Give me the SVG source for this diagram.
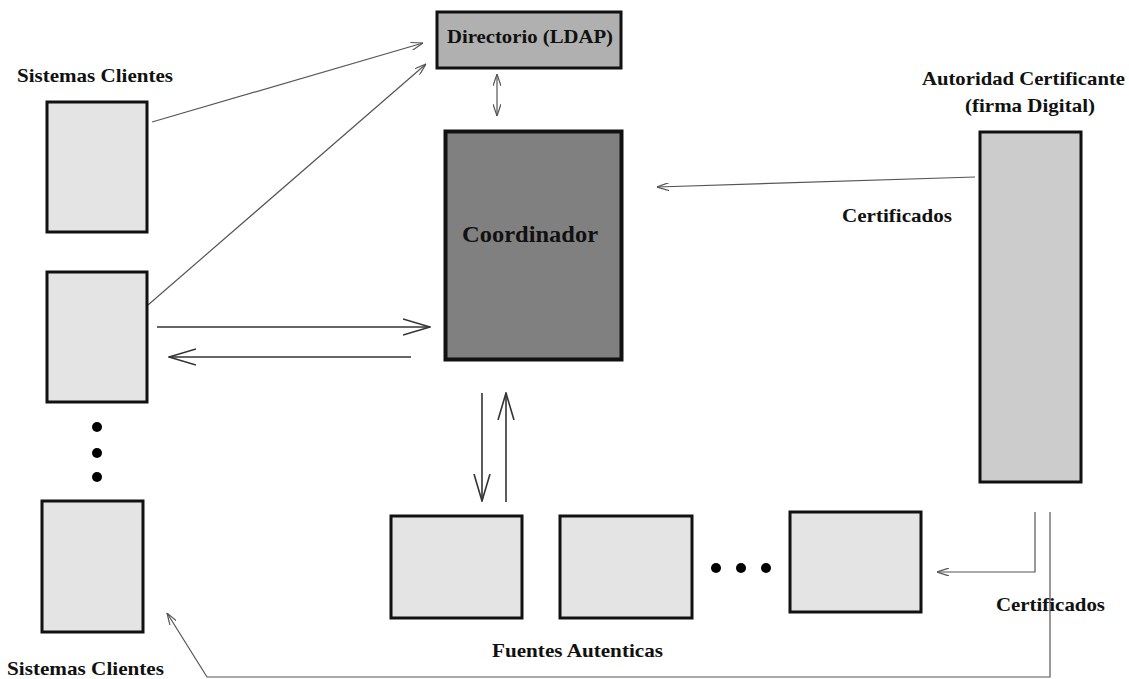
<svg xmlns="http://www.w3.org/2000/svg" width="1129" height="679" viewBox="0 0 1129 679">
<style>
  text { font-family: "Liberation Serif", "Times New Roman", serif; font-weight: bold; fill: #111; }
  .lbl { font-size: 19px; }
  .box { stroke: #111; stroke-width: 3; }
  .light { fill: #e4e4e4; }
  .thin { fill: none; stroke: #555; stroke-width: 1.2; }
  .thick { fill: none; stroke: #333; stroke-width: 1.6; }
</style>
<defs>
  <marker id="sm" viewBox="0 0 12 8" refX="12" refY="4" markerWidth="12" markerHeight="8" markerUnits="userSpaceOnUse" orient="auto-start-reverse">
    <path d="M0,0 L12,4 L0,8" fill="none" stroke="#555" stroke-width="1.2"/>
  </marker>
  <marker id="open" viewBox="0 0 28 18" refX="27" refY="9" markerWidth="28" markerHeight="18" markerUnits="userSpaceOnUse" orient="auto">
    <path d="M0,1 L27,9 L0,17" fill="none" stroke="#333" stroke-width="1.6"/>
  </marker>
</defs>

<g id="connectors">
  <line class="thin" x1="152" y1="122" x2="423" y2="43" marker-end="url(#sm)"/>
  <line class="thin" x1="148" y1="305" x2="426" y2="64" marker-end="url(#sm)"/>
  <line class="thin" x1="497" y1="74" x2="497" y2="116" marker-start="url(#sm)" marker-end="url(#sm)"/>
  <line class="thick" x1="157" y1="327" x2="430" y2="327" marker-end="url(#open)"/>
  <line class="thick" x1="411" y1="357" x2="169" y2="357" marker-end="url(#open)"/>
  <line class="thick" x1="482" y1="393" x2="482" y2="501" marker-end="url(#open)"/>
  <line class="thick" x1="506" y1="502" x2="506" y2="393" marker-end="url(#open)"/>
  <line class="thin" x1="975" y1="177" x2="657" y2="187" marker-end="url(#sm)"/>
  <polyline class="thin" points="1035,512 1035,572 937,572" marker-end="url(#sm)"/>
  <polyline class="thin" points="1050,512 1050,677 207,677 167,613" stroke="#777" stroke-width="1.5" marker-end="url(#sm)"/>
</g>

<g id="directorio">
  <rect class="box" x="437" y="12" width="184" height="56" fill="#b0b0b0"/>
  <text x="447" y="43" font-size="19" textLength="166" lengthAdjust="spacingAndGlyphs">Directorio (LDAP)</text>
</g>

<g id="coordinador">
  <rect x="445.5" y="131.5" width="176" height="228" fill="#808080" stroke="#111" stroke-width="4"/>
  <text x="462" y="242" font-size="23" textLength="136" lengthAdjust="spacingAndGlyphs">Coordinador</text>
</g>

<g id="clientes-top-label">
  <text class="lbl" x="17" y="82" textLength="156" lengthAdjust="spacingAndGlyphs">Sistemas Clientes</text>
</g>
<g id="cliente1">
  <rect class="box light" x="47" y="102" width="100" height="130"/>
</g>
<g id="cliente2">
  <rect class="box light" x="47" y="272" width="100" height="130"/>
</g>
<g id="cliente-dots">
  <circle cx="97" cy="427" r="5" fill="#000"/>
  <circle cx="97" cy="453" r="5" fill="#000"/>
  <circle cx="97" cy="477" r="5" fill="#000"/>
</g>
<g id="cliente3">
  <rect class="box light" x="42" y="501" width="101" height="131"/>
</g>
<g id="clientes-bottom-label">
  <text class="lbl" x="7" y="675" textLength="157" lengthAdjust="spacingAndGlyphs">Sistemas Clientes</text>
</g>

<g id="autoridad">
  <text class="lbl" x="922" y="85" textLength="203" lengthAdjust="spacingAndGlyphs">Autoridad Certificante</text>
  <text class="lbl" x="965" y="112" textLength="130" lengthAdjust="spacingAndGlyphs">(firma Digital)</text>
  <rect x="980" y="132" width="101" height="350" fill="#cccccc" class="box"/>
</g>

<g id="cert-label-1">
  <text class="lbl" x="842" y="222" textLength="110" lengthAdjust="spacingAndGlyphs">Certificados</text>
</g>
<g id="cert-label-2">
  <text class="lbl" x="996" y="611" textLength="109" lengthAdjust="spacingAndGlyphs">Certificados</text>
</g>

<g id="fuente1">
  <rect class="box light" x="391" y="516" width="131" height="102"/>
</g>
<g id="fuente2">
  <rect class="box light" x="560" y="516" width="132" height="102"/>
</g>
<g id="fuente-dots">
  <circle cx="716" cy="568" r="5" fill="#000"/>
  <circle cx="741" cy="568" r="5" fill="#000"/>
  <circle cx="766" cy="568" r="5" fill="#000"/>
</g>
<g id="fuente3">
  <rect class="box light" x="790" y="512" width="131" height="100"/>
</g>
<g id="fuentes-label">
  <text class="lbl" x="492" y="657" textLength="171" lengthAdjust="spacingAndGlyphs">Fuentes Autenticas</text>
</g>
</svg>
